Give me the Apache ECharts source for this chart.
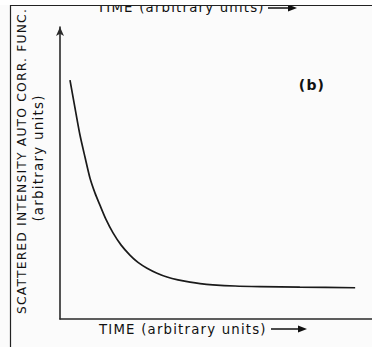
<!DOCTYPE html>
<html>
<head>
<meta charset="utf-8">
<script src="https://cdn.jsdelivr.net/npm/echarts@6/dist/echarts.min.js"></script>
<style>html,body{margin:0;padding:0;background:#fff}#c{width:372px;height:347px;letter-spacing:1.2px}</style>
</head>
<body>
<div id="c"></div>
<script>
// time (arbitrary units) and scattered intensity autocorrelation (arbitrary units)
var timeValues = [0.32, 0.48, 0.64, 0.80, 0.96, 1.12, 1.28, 1.47, 1.70, 1.96, 2.24, 2.50, 2.79, 3.11, 3.43, 3.78, 4.17, 4.49, 4.90, 5.61, 6.41, 7.69, 9.46];
var intensityValues = [81.8, 72.3, 63.0, 55.5, 48.3, 43.2, 39.0, 34.2, 29.5, 25.3, 21.9, 19.4, 17.4, 15.7, 14.4, 13.4, 12.6, 12.1, 11.7, 11.3, 11.1, 10.9, 10.7];
var yTitle = 'SCATTERED INTENSITY AUTO CORR. FUNC.';
var yUnits = '(arbitrary units)';
var xTitle = 'TIME (arbitrary units)';
var panelLabel = '(b)';

var seriesData = timeValues.map(function (t, i) { return [t, intensityValues[i]]; });
var font = 'DejaVu Sans';
var ink = '#111';
function txt(x, y, text, size, extra) {
  var o = {type: 'text', x: x, y: y, style: {text: text, font: size + 'px "' + font + '"', fill: ink}};
  for (var k in extra) { if (k === 'style') { for (var s in extra.style) o.style[s] = extra.style[s]; } else o[k] = extra[k]; }
  return o;
}

var chart = echarts.init(document.getElementById('c'), null, {renderer: 'svg'});
chart.setOption({
  backgroundColor: '#fbfbfb',
  animation: false,
  grid: {left: 60, right: 0, top: 27, bottom: 28},
  xAxis: {
    type: 'value', min: 0, max: 10,
    axisLine: {show: true, lineStyle: {color: '#2a2a2a', width: 1.6}},
    axisTick: {show: false}, axisLabel: {show: false}, splitLine: {show: false}
  },
  yAxis: {
    type: 'value', min: 0, max: 100,
    axisLine: {show: true, symbol: ['none', 'arrow'], symbolSize: [6, 9], lineStyle: {color: '#2a2a2a', width: 1.6}},
    axisTick: {show: false}, axisLabel: {show: false}, splitLine: {show: false}
  },
  series: [{
    type: 'line', data: seriesData, smooth: 0.25, showSymbol: false,
    lineStyle: {color: '#1a1a1a', width: 1.7}
  }],
  graphic: [
    {type: 'line', shape: {x1: 10.5, y1: 5, x2: 10.5, y2: 347}, style: {stroke: '#222', lineWidth: 1.2}},
    txt(97, 14, xTitle, 13.3, {style: {textVerticalAlign: 'bottom'}}),
    {type: 'line', shape: {x1: 268, y1: 8, x2: 290, y2: 8}, style: {stroke: ink, lineWidth: 1.5}},
    {type: 'polygon', shape: {points: [[297, 8], [288, 4.5], [288, 11.5]]}, style: {fill: ink}},
    {type: 'rect', shape: {x: 0, y: 0, width: 372, height: 5}, style: {fill: '#fff'}, z: 10},
    {type: 'line', shape: {x1: 10, y1: 5.5, x2: 372, y2: 5.5}, style: {stroke: '#222', lineWidth: 1.2}, z: 11},
    txt(22, 161, yTitle, 12.3, {rotation: Math.PI / 2, style: {textAlign: 'center', textVerticalAlign: 'middle'}}),
    txt(38, 158, yUnits, 13.5, {rotation: Math.PI / 2, style: {textAlign: 'center', textVerticalAlign: 'middle'}}),
    txt(99, 329, xTitle, 13.3, {style: {textVerticalAlign: 'middle'}}),
    {type: 'line', shape: {x1: 271, y1: 329, x2: 300, y2: 329}, style: {stroke: ink, lineWidth: 1.5}},
    {type: 'polygon', shape: {points: [[307, 329], [298, 325.5], [298, 332.5]]}, style: {fill: ink}},
    {type: 'text', x: 312, y: 85, style: {text: panelLabel, font: 'bold 14px "' + font + '"', fill: ink, textAlign: 'center', textVerticalAlign: 'middle'}}
  ]
});
</script>
</body>
</html>
